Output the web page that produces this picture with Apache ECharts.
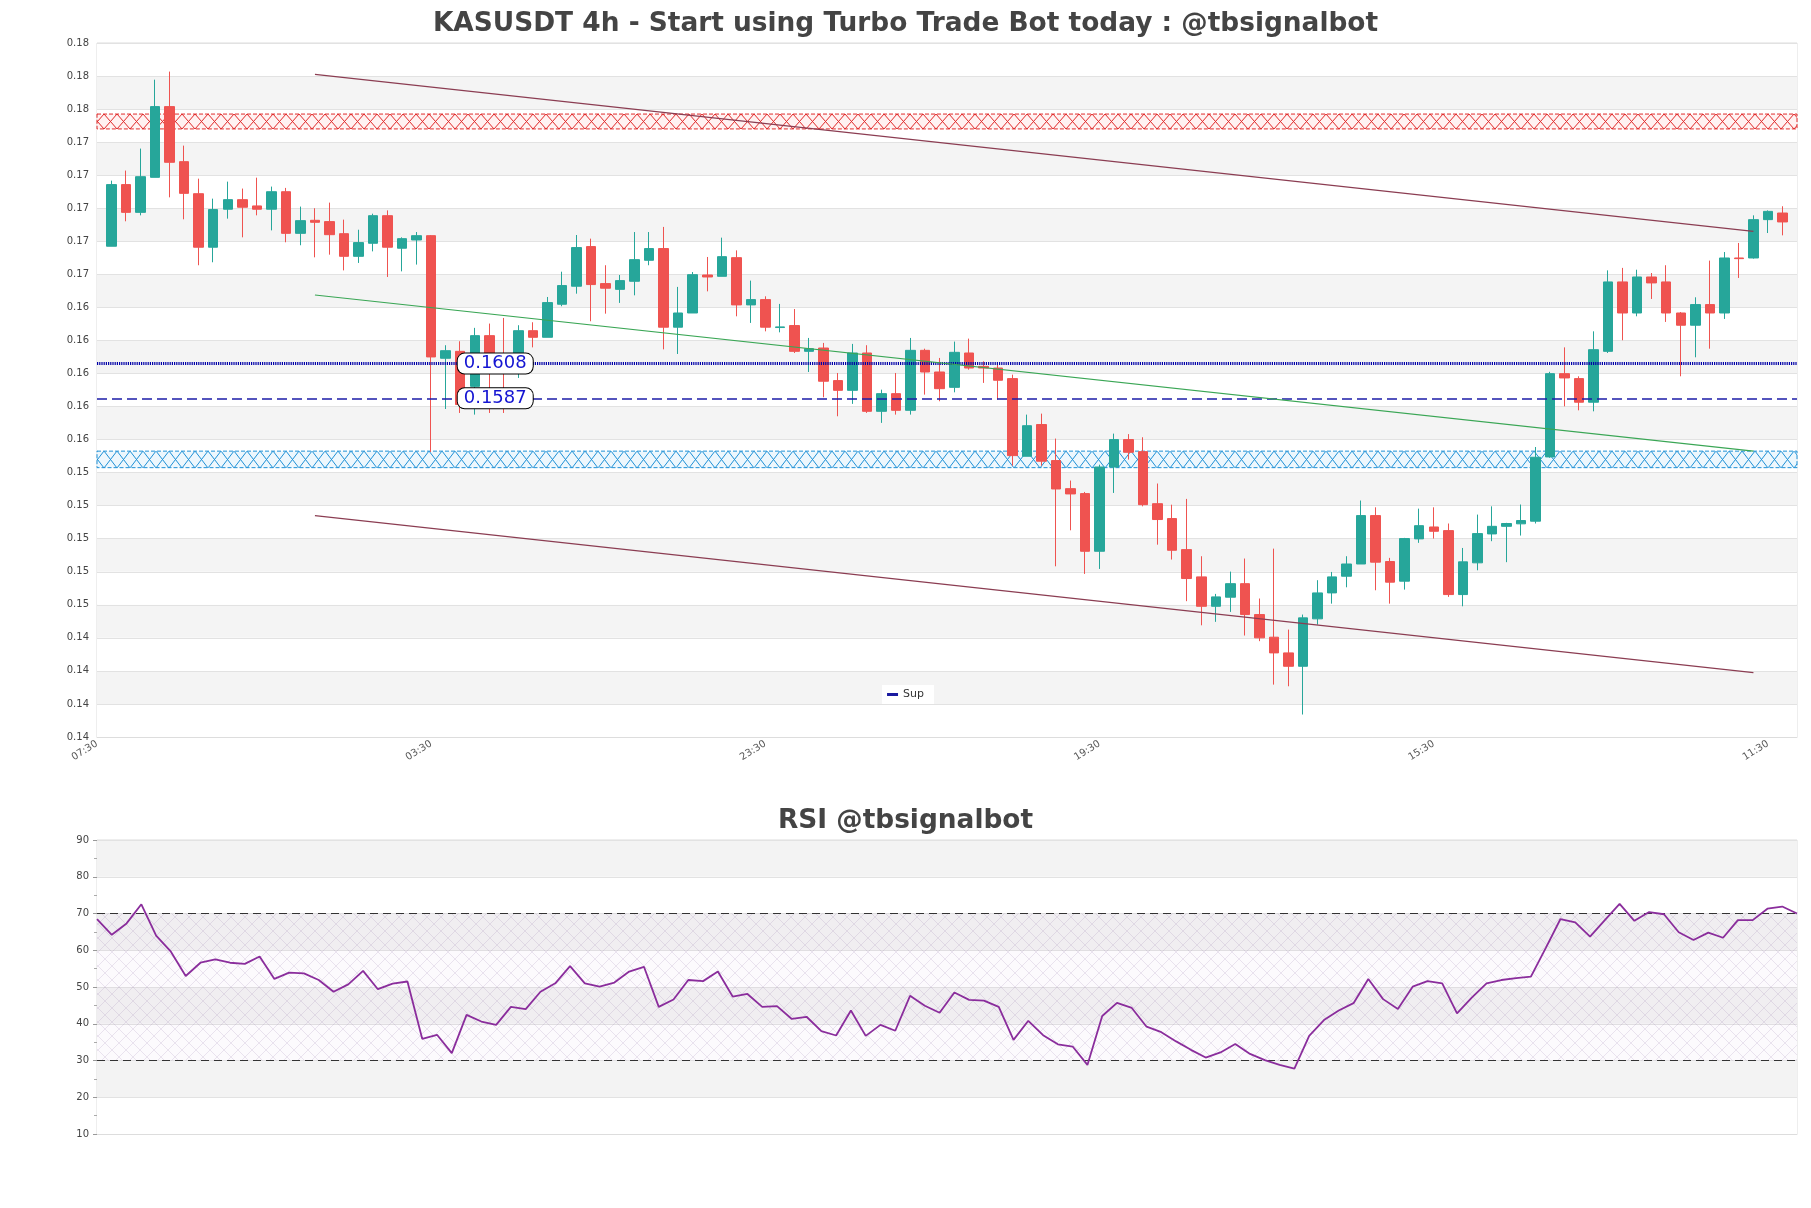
<!DOCTYPE html>
<html>
<head>
<meta charset="utf-8">
<script src="https://cdn.jsdelivr.net/npm/echarts@6/dist/echarts.min.js"></script>
<style>
html,body{margin:0;padding:0;background:#fff}
#c{width:1811px;height:1208px}
</style>
</head>
<body>
<div id="c"></div>
<script>
// ---------------- DATA ----------------
const timeLabels = [
"07:30","11:30","15:30","19:30","23:30","03:30","07:30","11:30","15:30","19:30","23:30","03:30",
"07:30","11:30","15:30","19:30","23:30","03:30","07:30","11:30","15:30","19:30","23:30","03:30",
"07:30","11:30","15:30","19:30","23:30","03:30","07:30","11:30","15:30","19:30","23:30","03:30",
"07:30","11:30","15:30","19:30","23:30","03:30","07:30","11:30","15:30","19:30","23:30","03:30",
"07:30","11:30","15:30","19:30","23:30","03:30","07:30","11:30","15:30","19:30","23:30","03:30",
"07:30","11:30","15:30","19:30","23:30","03:30","07:30","11:30","15:30","19:30","23:30","03:30",
"07:30","11:30","15:30","19:30","23:30","03:30","07:30","11:30","15:30","19:30","23:30","03:30",
"07:30","11:30","15:30","19:30","23:30","03:30","07:30","11:30","15:30","19:30","23:30","03:30",
"07:30","11:30","15:30","19:30","23:30","03:30","07:30","11:30","15:30","19:30","23:30","03:30",
"07:30","11:30","15:30","19:30","23:30","03:30","07:30","11:30","15:30","19:30"
];

const opens = [
0.16790,0.17163,0.16995,0.17207,0.17635,0.17302,0.17108,0.16784,0.17014,0.17072,
0.17034,0.17014,0.17120,0.16868,0.16947,0.16939,0.16866,0.16729,0.16808,0.16975,
0.16778,0.16828,0.16854,0.16112,0.16154,0.15942,0.16249,0.16140,0.16114,0.16279,
0.16239,0.16439,0.16548,0.16788,0.16564,0.16529,0.16578,0.16705,0.16776,0.16300,
0.16386,0.16616,0.16608,0.16721,0.16435,0.16467,0.16298,0.16310,0.16154,0.16174,
0.15977,0.15918,0.16144,0.15791,0.15898,0.15797,0.16160,0.16029,0.15936,0.16144,
0.16063,0.16053,0.15989,0.15519,0.15711,0.15493,0.15323,0.15293,0.14944,0.15454,
0.15620,0.15547,0.15232,0.15142,0.14954,0.14789,0.14611,0.14666,0.14748,0.14561,
0.14424,0.14329,0.14248,0.14535,0.14692,0.14793,0.14867,0.15160,0.14882,0.14763,
0.15019,0.15091,0.15069,0.14682,0.14874,0.15049,0.15095,0.15110,0.15126,0.15515,
0.16019,0.15989,0.15846,0.16154,0.16574,0.16386,0.16604,0.16574,0.16386,0.16312,
0.16437,0.16386,0.16719,0.16719,0.16951,0.16991];
const closes = [
0.17163,0.16995,0.17211,0.17635,0.17298,0.17110,0.16784,0.17012,0.17072,0.17026,
0.17014,0.17120,0.16868,0.16945,0.16935,0.16860,0.16729,0.16812,0.16975,0.16784,
0.16836,0.16854,0.16120,0.16158,0.15832,0.16249,0.16084,0.16060,0.16279,0.16239,
0.16449,0.16552,0.16782,0.16558,0.16536,0.16582,0.16709,0.16776,0.16300,0.16386,
0.16618,0.16604,0.16727,0.16435,0.16467,0.16300,0.16302,0.16154,0.16170,0.15973,
0.15918,0.16144,0.15791,0.15898,0.15797,0.16160,0.16029,0.15928,0.16148,0.16053,
0.16053,0.15979,0.15523,0.15704,0.15489,0.15321,0.15291,0.14944,0.15454,0.15620,
0.15543,0.15226,0.15136,0.14950,0.14779,0.14611,0.14668,0.14748,0.14561,0.14420,
0.14329,0.14248,0.14541,0.14692,0.14789,0.14867,0.15160,0.14878,0.14757,0.15021,
0.15099,0.15065,0.14682,0.14880,0.15051,0.15095,0.15112,0.15130,0.15513,0.16019,
0.15993,0.15846,0.16164,0.16574,0.16386,0.16604,0.16568,0.16386,0.16312,0.16437,
0.16386,0.16719,0.16715,0.16951,0.17001,0.16937];
const lows = [
0.16790,0.16941,0.16977,0.17207,0.17086,0.16953,0.16675,0.16693,0.16957,0.16844,
0.16977,0.16886,0.16814,0.16796,0.16723,0.16739,0.16644,0.16689,0.16759,0.16604,
0.16638,0.16679,0.15545,0.15805,0.15781,0.15771,0.15781,0.15781,0.15993,0.16178,
0.16239,0.16427,0.16503,0.16336,0.16382,0.16447,0.16493,0.16675,0.16166,0.16138,
0.16386,0.16517,0.16608,0.16366,0.16326,0.16275,0.16269,0.16144,0.16029,0.15876,
0.15761,0.15836,0.15781,0.15721,0.15771,0.15771,0.15892,0.15852,0.15906,0.16043,
0.15963,0.15862,0.15462,0.15519,0.15462,0.14853,0.15071,0.14807,0.14837,0.15297,
0.15499,0.15216,0.14984,0.14894,0.14642,0.14496,0.14517,0.14577,0.14434,0.14400,
0.14137,0.14127,0.13956,0.14500,0.14627,0.14726,0.14867,0.14708,0.14627,0.14712,
0.14995,0.15021,0.14668,0.14611,0.14829,0.15005,0.14878,0.15039,0.15112,0.15510,
0.15821,0.15797,0.15791,0.16144,0.16221,0.16366,0.16471,0.16332,0.16003,0.16118,
0.16170,0.16350,0.16598,0.16715,0.16870,0.16856];
const highs = [
0.17187,0.17248,0.17381,0.17798,0.17847,0.17399,0.17199,0.17078,0.17181,0.17139,
0.17205,0.17151,0.17143,0.17030,0.17020,0.17054,0.16951,0.16890,0.16987,0.17007,
0.16844,0.16876,0.16858,0.16191,0.16215,0.16296,0.16322,0.16356,0.16312,0.16330,
0.16483,0.16636,0.16858,0.16836,0.16675,0.16616,0.16876,0.16876,0.16907,0.16544,
0.16634,0.16725,0.16842,0.16765,0.16582,0.16487,0.16441,0.16410,0.16235,0.16205,
0.16023,0.16199,0.16191,0.15922,0.16023,0.16235,0.16170,0.16114,0.16213,0.16231,
0.16094,0.16074,0.16013,0.15771,0.15777,0.15626,0.15372,0.15303,0.15468,0.15656,
0.15653,0.15634,0.15354,0.15226,0.15261,0.14914,0.14686,0.14821,0.14900,0.14658,
0.14960,0.14470,0.14561,0.14769,0.14819,0.14914,0.15251,0.15210,0.14904,0.15025,
0.15202,0.15210,0.15112,0.14964,0.15166,0.15216,0.15116,0.15227,0.15575,0.16030,
0.16178,0.16003,0.16275,0.16644,0.16659,0.16648,0.16628,0.16675,0.16392,0.16481,
0.16703,0.16755,0.16810,0.16977,0.17007,0.17032];

const rsiValues = [
68.5,64.2,67.3,72.5,64.0,59.6,53.0,56.6,57.5,56.6,
56.3,58.3,52.2,53.9,53.7,51.9,48.7,50.7,54.4,49.4,
50.9,51.5,35.9,37.0,32.0,42.4,40.6,39.7,44.6,44.0,
48.7,51.0,55.7,51.0,50.1,51.2,54.2,55.5,44.6,46.6,
51.9,51.6,54.2,47.4,48.1,44.6,44.8,41.3,41.9,38.0,
36.8,43.6,36.7,39.7,38.1,47.6,44.9,43.0,48.5,46.5,
46.3,44.6,35.6,40.8,36.9,34.4,33.8,28.8,42.1,45.7,
44.3,39.2,37.7,35.2,32.9,30.8,32.2,34.5,31.8,30.1,
28.8,27.8,36.7,41.0,43.6,45.6,52.2,46.7,44.0,50.1,
51.6,51.0,42.8,47.1,51.0,51.9,52.4,52.8,60.6,68.5,
67.6,63.7,68.2,72.6,68.0,70.4,69.8,64.9,62.8,64.8,
63.4,68.2,68.2,71.3,71.9,70.0];

const priceTicks = [0.1382,0.1402,0.1422,0.1442,0.1462,0.1482,0.1502,0.1522,0.1542,0.1562,0.1582,
                    0.1602,0.1622,0.1642,0.1662,0.1682,0.1702,0.1722,0.1742,0.1762,0.1782,0.1802];
const rsiTicks = [10,20,30,40,50,60,70,80,90];

const supLevels = [0.1608, 0.1587];
const supLabelIndex = 25;
const resistanceZone = [0.1750, 0.1759];
const supportZone = [0.1545, 0.1555];
const upperTrend = [[15, 0.1783], [114, 0.1688]];
const midTrend   = [[15, 0.16495], [114, 0.1555]];
const lowerTrend = [[15, 0.1516], [114, 0.1421]];
const rsiBands = [30, 70];

// ---------------- BUILD ----------------
const candleData = opens.map((o, i) => [i + 1, o, closes[i], lows[i], highs[i]]);
const rsiTimes = timeLabels.slice(1, 1 + rsiValues.length);

function hatchTile(w, h, stroke, bg, lw) {
  const c = document.createElement('canvas');
  c.width = w; c.height = h;
  const g = c.getContext('2d');
  if (bg) { g.fillStyle = bg; g.fillRect(0, 0, w, h); }
  g.strokeStyle = stroke; g.lineWidth = lw;
  g.beginPath();
  g.moveTo(0, 0); g.lineTo(w, h);
  g.moveTo(w, 0); g.lineTo(0, h);
  g.stroke();
  return c;
}

const FONT = 'DejaVu Sans';
const upC = '#26a69a', downC = '#ef5350';

const option = {
  animation: false,
  backgroundColor: '#ffffff',
  textStyle: { fontFamily: FONT },
  title: [
    { text: 'KASUSDT 4h - Start using Turbo Trade Bot today : @tbsignalbot', left: 'center', top: 6,
      textStyle: { fontFamily: FONT, fontSize: 26.4, fontWeight: 'bold', color: '#444' } },
    { text: 'RSI @tbsignalbot', left: 'center', top: 803,
      textStyle: { fontFamily: FONT, fontSize: 26.4, fontWeight: 'bold', color: '#444' } }
  ],
  legend: {
    data: ['Sup'], top: 685, left: 'center', backgroundColor: '#fff',
    icon: 'rect', itemWidth: 11, itemHeight: 3, padding: [4, 10, 4, 5], itemGap: 6,
    textStyle: { fontSize: 11, color: '#333', fontFamily: FONT }
  },
  grid: [
    { left: 97, right: 14, top: 43, height: 694, show: true, borderColor: '#dddddd', borderWidth: 1, backgroundColor: 'transparent' },
    { left: 97, right: 14, top: 840, height: 294, show: true, borderColor: '#dddddd', borderWidth: 1, backgroundColor: 'transparent' }
  ],
  xAxis: [
    { type: 'category', gridIndex: 0, data: timeLabels, boundaryGap: false,
      axisLine: { lineStyle: { color: '#dddddd' } }, axisTick: { show: false },
      axisLabel: { interval: 22, rotate: 32, fontSize: 10, color: '#555', margin: 6 },
      splitLine: { show: false } },
    { type: 'category', gridIndex: 1, data: rsiTimes, boundaryGap: false,
      axisLine: { lineStyle: { color: '#dddddd' } }, axisTick: { show: false },
      axisLabel: { show: false }, splitLine: { show: false } }
  ],
  yAxis: [
    { type: 'value', gridIndex: 0, min: priceTicks[0], max: priceTicks[priceTicks.length - 1], scale: true,
      axisLine: { show: false }, axisTick: { show: false, customValues: priceTicks },
      axisLabel: { customValues: priceTicks, formatter: v => v.toFixed(2), fontSize: 10, color: '#444' },
      splitLine: { show: true, lineStyle: { color: '#e2e2e2', width: 1 } },
      splitArea: { show: true, areaStyle: { color: ['#ffffff', '#f4f4f4'] } } },
    { type: 'value', gridIndex: 1, min: rsiTicks[0], max: rsiTicks[rsiTicks.length - 1], interval: 10,
      axisLine: { show: false },
      axisTick: { show: true, length: 4, lineStyle: { color: '#999' } },
      minorTick: { show: true, splitNumber: 2, length: 3, lineStyle: { color: '#aaa' } },
      axisLabel: { fontSize: 10, color: '#444' },
      splitLine: { show: true, lineStyle: { color: '#e2e2e2' } },
      splitArea: { show: true, areaStyle: { color: ['#ffffff', '#f3f3f3'] } } }
  ],
  series: [
    { id: 'zones', type: 'line', xAxisIndex: 0, yAxisIndex: 0, data: [], z: 1, silent: true,
      markArea: { silent: true, label: { show: false },
        data: [
          [{ yAxis: resistanceZone[1], itemStyle: { color: 'rgba(255,0,0,0.08)', borderColor: '#e02a2a', borderWidth: 1, borderType: [4, 2] } }, { yAxis: resistanceZone[0] }],
          [{ yAxis: supportZone[1], itemStyle: { color: 'rgba(0,140,220,0.08)', borderColor: '#1e90d6', borderWidth: 1, borderType: [4, 2] } }, { yAxis: supportZone[0] }]
        ] } },
    { name: 'KASUSDT', type: 'candlestick', xAxisIndex: 0, yAxisIndex: 0, data: candleData,
      encode: { x: 0, y: [1, 2, 3, 4] }, barWidth: 10, z: 3,
      itemStyle: { color: upC, color0: downC, borderColor: upC, borderColor0: downC, borderWidth: 1 },
      markLine: { silent: true, symbol: 'none', precision: 4, label: { show: false }, z: 4,
        data: [
          { yAxis: supLevels[0], lineStyle: { color: '#0000a8', width: 3, type: [1.2, 1] } },
          { yAxis: supLevels[1], lineStyle: { color: '#1c1ca8', width: 1.5, type: [10, 5] } }
        ] } },
    { name: 'upper', type: 'line', xAxisIndex: 0, yAxisIndex: 0, data: upperTrend, symbol: 'none', z: 4,
      lineStyle: { color: '#8b3d52', width: 1.2 }, silent: true },
    { name: 'lower', type: 'line', xAxisIndex: 0, yAxisIndex: 0, data: lowerTrend, symbol: 'none', z: 4,
      lineStyle: { color: '#8b3d52', width: 1.2 }, silent: true },
    { name: 'mid', type: 'line', xAxisIndex: 0, yAxisIndex: 0, data: midTrend, symbol: 'none', z: 4,
      lineStyle: { color: '#3aa655', width: 1.2 }, silent: true },
    { name: 'Sup', type: 'line', xAxisIndex: 0, yAxisIndex: 0, data: [], color: '#1a1aa0', z: 6,
      markPoint: { silent: true, symbol: 'rect', symbolSize: 1, itemStyle: { color: 'rgba(0,0,0,0)' },
        data: supLevels.map(v => ({ coord: [supLabelIndex, v], value: v })),
        label: { show: true, position: 'right', distance: -3, formatter: p => p.value.toFixed(4),
          color: '#1414d2', fontSize: 18, lineHeight: 18, fontFamily: FONT,
          backgroundColor: '#ffffff', borderColor: '#000', borderWidth: 1, borderRadius: 7, padding: [1, 6] } } },
    { name: 'RSI', type: 'line', xAxisIndex: 1, yAxisIndex: 1, data: rsiValues, symbol: 'none', z: 5,
      lineStyle: { color: '#8a2d9c', width: 1.8 }, itemStyle: { color: '#8a2d9c' },
      markLine: { silent: true, symbol: 'none', precision: 2, label: { show: false },
        lineStyle: { color: '#333', width: 1.2, type: [8, 5] },
        data: [{ yAxis: rsiBands[1] }, { yAxis: rsiBands[0] }] },
      markArea: { silent: true, label: { show: false },
        data: [[{ yAxis: rsiBands[1], itemStyle: { color: { image: hatchTile(14, 14, 'rgba(140,110,165,0.22)', 'rgba(190,160,215,0.05)', 0.8), repeat: 'repeat' } } }, { yAxis: rsiBands[0] }]] } }
  ]
};

const chart = echarts.init(document.getElementById('c'), null, { renderer: 'canvas' });
chart.setOption(option);

// align zone hatching to zone pixel bounds (computed through the axis scale)
function zonePattern(zone, stroke, bg) {
  const yTop = chart.convertToPixel({ yAxisIndex: 0 }, zone[1]);
  const yBot = chart.convertToPixel({ yAxisIndex: 0 }, zone[0]);
  const h = Math.max(4, Math.round(yBot - yTop));
  return { image: hatchTile(13, h, stroke, bg, 1), repeat: 'repeat', x: 0, y: Math.round(yTop) };
}
chart.setOption({
  series: [{ id: 'zones', markArea: { silent: true, label: { show: false }, data: [
    [{ yAxis: resistanceZone[1], itemStyle: { color: zonePattern(resistanceZone, '#e02a2a', 'rgba(255,230,230,0.5)'), borderColor: '#e02a2a', borderWidth: 1, borderType: [4, 2] } }, { yAxis: resistanceZone[0] }],
    [{ yAxis: supportZone[1], itemStyle: { color: zonePattern(supportZone, '#1e90d6', 'rgba(225,242,252,0.6)'), borderColor: '#1e90d6', borderWidth: 1, borderType: [4, 2] } }, { yAxis: supportZone[0] }]
  ] } }]
});
</script>
</body>
</html>
